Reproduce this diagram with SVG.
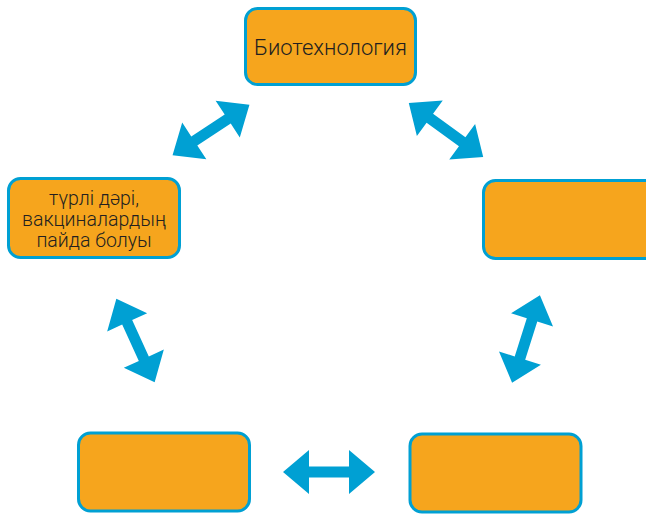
<svg xmlns="http://www.w3.org/2000/svg" width="646" height="515" viewBox="0 0 646 515">
  <style>
    .box { fill: #f6a51d; stroke: #00a0d3; stroke-width: 3; }
    .lbl { font-family: Roboto, "Liberation Sans", sans-serif; font-weight: 300; fill: #231f20; text-anchor: middle; }
    .arr { fill: #00a0d3; }
  </style>
  <defs>
    <path id="dbl" d="M -46 0 L -20 -22 L -20 -5.5 L 20 -5.5 L 20 -22 L 46 0 L 20 22 L 20 5.5 L -20 5.5 L -20 22 Z"/>
  </defs>
  <rect width="646" height="515" fill="#ffffff"/>
  <g id="node-biotech">
    <rect class="box" x="245.5" y="8.5" width="170" height="76" rx="12"/>
    <text class="lbl" x="330.5" y="55" font-size="22">Биотехнология</text>
  </g>
  <g id="node-medicine">
    <rect class="box" x="8.5" y="178.5" width="171" height="79" rx="12"/>
    <text class="lbl" font-size="19.5"><tspan x="94" y="205">түрлі дәрі,</tspan><tspan x="94" y="226">вакциналардың</tspan><tspan x="94" y="247">пайда болуы</tspan></text>
  </g>
  <g id="node-right">
    <rect class="box" x="483.5" y="180.5" width="180" height="78" rx="12"/>
  </g>
  <g id="node-bottom-left">
    <rect class="box" x="78.5" y="433" width="171" height="78" rx="12"/>
  </g>
  <g id="node-bottom-right">
    <rect class="box" x="410" y="434" width="171" height="78" rx="12"/>
  </g>
  <g id="connectors" class="arr">
    <use href="#dbl" transform="translate(211 130) rotate(-33.3)"/>
    <use href="#dbl" transform="translate(446 130) rotate(36)"/>
    <use href="#dbl" transform="translate(135.5 340.5) rotate(65.4)"/>
    <use href="#dbl" transform="translate(526 339) rotate(107.6)"/>
    <use href="#dbl" transform="translate(329 472)"/>
  </g>
</svg>
